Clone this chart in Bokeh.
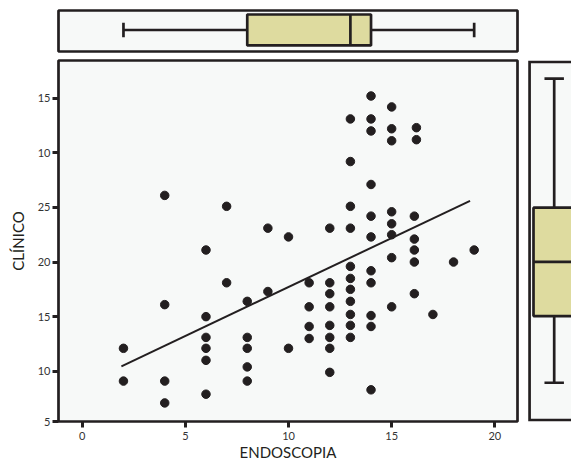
from bokeh.plotting import figure
from bokeh.layouts import column, row
from bokeh.models import Range1d, FixedTicker
from bokeh.embed import file_html
from bokeh.resources import INLINE

# ---- data ----
endoscopia = [14, 15, 13, 14, 14, 15, 16.2, 15, 16.2, 13, 14, 4, 7, 13, 14, 15, 16.1, 15,
              9, 12, 13, 10, 14, 15, 16.1, 6, 16.1, 19, 15, 16.1, 18, 13, 14, 13, 7, 11,
              12, 14, 13, 9, 12, 16.1, 8, 13, 4, 11, 12, 15, 13, 14, 17, 6, 11, 12, 13,
              14, 6, 8, 11, 12, 13, 2, 6, 8, 10, 12, 6, 8, 12, 2, 4, 8, 14, 6, 4]
clinico = [35.2, 34.2, 33.1, 33.1, 32.0, 32.2, 32.3, 31.1, 31.2, 29.2, 27.1, 26.1, 25.1, 25.1,
           24.2, 24.6, 24.2, 23.5, 23.1, 23.1, 23.1, 22.3, 22.3, 22.5, 22.1, 21.1, 21.1, 21.1,
           20.4, 20.0, 20.0, 19.6, 19.2, 18.5, 18.1, 18.1, 18.1, 18.1, 17.5, 17.3, 17.1, 17.1,
           16.4, 16.4, 16.1, 15.9, 15.9, 15.9, 15.2, 15.1, 15.2, 15.0, 14.1, 14.2, 14.2, 14.1,
           13.1, 13.1, 13.0, 13.1, 13.1, 12.1, 12.1, 12.1, 12.1, 12.1, 11.0, 10.4, 9.9, 9.1,
           9.1, 9.1, 8.3, 7.9, 7.1]

# fit line end points
fit_x = [1.9, 18.8]
fit_y = [10.45, 25.6]

# box statistics: [whisker low, Q1, median, Q3, whisker high]
endo_stats = [2, 8, 13, 14, 19]
clin_stats = [8.85, 15, 20, 25, 36.9]

X0, X1 = -1.149, 21.10        # main x range
Y0, Y1 = 5.4, 38.45           # main y range

x_ticks = [0, 5, 10, 15, 20]
y_ticks = [Y0, 10, 15, 20, 25, 30, 35]
y_tick_labels = ["5", "10", "15", "20", "25", "10", "15"]

DARK = "#231f20"
BG = "#f7f9f8"
BOXFILL = "#dedb9f"
FONT = "Lato"
TICKCOL = "#333333"
LW = 2.7


def style_axis(ax):
    ax.axis_line_color = None
    ax.minor_tick_line_color = None
    ax.major_tick_in = 0
    ax.major_tick_out = 6
    ax.major_tick_line_width = 3
    ax.major_tick_line_color = DARK
    ax.major_label_text_font = FONT
    ax.major_label_text_font_size = "11px"
    ax.major_label_text_color = TICKCOL
    ax.axis_label_text_font = FONT
    ax.axis_label_text_font_size = "15px"
    ax.axis_label_text_font_style = "normal"
    ax.axis_label_text_color = DARK


# ---- main scatter ----
p = figure(width=523, height=410, x_range=Range1d(X0, X1), y_range=Range1d(Y0, Y1),
           output_backend="svg", toolbar_location=None,
           min_border_left=58, min_border_right=6, min_border_top=5, min_border_bottom=44)
p.background_fill_color = BG
p.border_fill_color = "white"
p.outline_line_color = DARK
p.outline_line_width = LW
p.grid.visible = False

p.scatter(endoscopia, clinico, size=8.5, color=DARK)
p.line(fit_x, fit_y, line_width=2, color=DARK)

p.xaxis.ticker = FixedTicker(ticks=x_ticks)
p.yaxis.ticker = FixedTicker(ticks=y_ticks)
p.yaxis.major_label_overrides = {t: s for t, s in zip(y_ticks, y_tick_labels)}
style_axis(p.xaxis[0])
style_axis(p.yaxis[0])
p.xaxis.axis_label = "ENDOSCOPIA"
p.xaxis.major_label_standoff = 4
p.xaxis.axis_label_standoff = 0
p.yaxis.axis_label = "CLÍNICO"
p.yaxis.major_label_standoff = 2
p.yaxis.axis_label_standoff = 8

# ---- top box plot ----
t = figure(width=571, height=55, x_range=p.x_range, y_range=Range1d(-1.39, 1.26),
           output_backend="svg", toolbar_location=None,
           min_border_left=58, min_border_right=54, min_border_top=10, min_border_bottom=4)
t.axis.visible = False
t.grid.visible = False
t.background_fill_color = BG
t.outline_line_color = DARK
t.outline_line_width = LW
lo, q1, med, q3, hi = endo_stats
t.segment(x0=[lo, q3], x1=[q1, hi], y0=[0, 0], y1=[0, 0], line_width=LW, color=DARK)
t.segment(x0=[lo, hi], x1=[lo, hi], y0=[-0.47, -0.47], y1=[0.47, 0.47], line_width=LW, color=DARK)
t.quad(left=[q1], right=[q3], bottom=[-1], top=[1], fill_color=BOXFILL, line_color=DARK, line_width=LW)
t.segment(x0=[med], x1=[med], y0=[-1], y1=[1], line_width=LW, color=DARK)

# ---- right box plot (panel continues past the page edge) ----
pad = 0.124
r = figure(width=48, height=410, x_range=Range1d(-1.29, 0.836), y_range=Range1d(Y0 - pad, Y1 + pad),
           output_backend="svg", toolbar_location=None,
           min_border_left=4, min_border_right=0, min_border_top=5, min_border_bottom=44)
r.axis.visible = False
r.grid.visible = False
r.background_fill_color = "white"
r.outline_line_color = None
r.quad(left=[-1.19], right=[3], bottom=[Y0], top=[Y1], fill_color=BG, line_color=None)
r.line([3, -1.19, -1.19, 3], [Y1, Y1, Y0, Y0], line_width=LW, color=DARK, line_join="miter")
lo, q1, med, q3, hi = clin_stats
r.segment(x0=[0, 0], x1=[0, 0], y0=[lo, q3], y1=[q1, hi], line_width=LW, color=DARK)
r.segment(x0=[-0.47, -0.47], x1=[0.47, 0.47], y0=[lo, hi], y1=[lo, hi], line_width=LW, color=DARK)
r.quad(left=[-1], right=[1], bottom=[q1], top=[q3], fill_color=BOXFILL, line_color=DARK, line_width=LW)
r.segment(x0=[-1], x1=[1], y0=[med], y1=[med], line_width=LW, color=DARK)

layout = column(t, row(p, r, spacing=0), spacing=0)
open("out.html", "w").write(file_html(layout, INLINE))
